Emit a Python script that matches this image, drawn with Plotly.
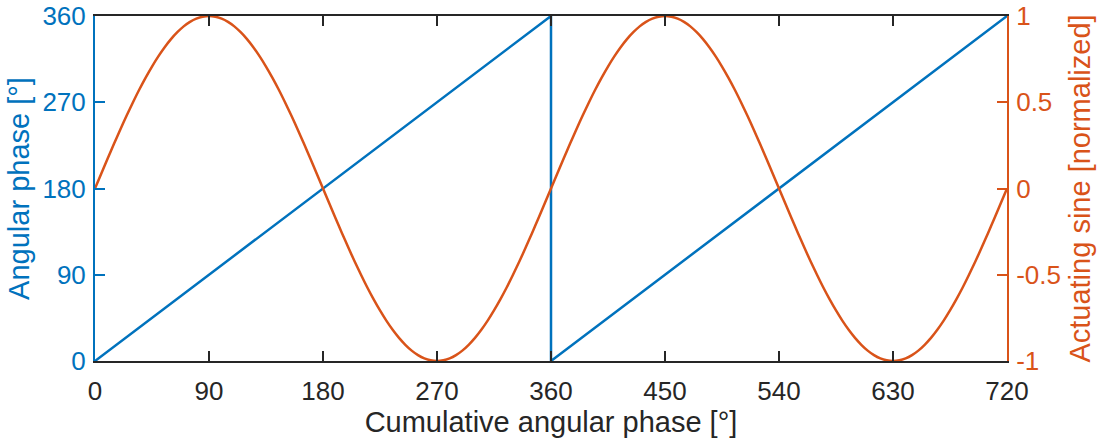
import plotly.graph_objects as go

# Sawtooth (wrapped angular phase)
phase_x = [0, 360, 360, 720]
phase_y = [0, 360, 0, 360]

sine_x = list(range(0, 721, 5))
sine_y = [
    0, 0.087, 0.174, 0.259, 0.342, 0.423, 0.5, 0.574, 0.643, 0.707, 0.766, 0.819,
    0.866, 0.906, 0.94, 0.966, 0.985, 0.996, 1.0,
    0.996, 0.985, 0.966, 0.94, 0.906, 0.866, 0.819, 0.766, 0.707, 0.643, 0.574,
    0.5, 0.423, 0.342, 0.259, 0.174, 0.087, 0,
    -0.087, -0.174, -0.259, -0.342, -0.423, -0.5, -0.574, -0.643, -0.707, -0.766,
    -0.819, -0.866, -0.906, -0.94, -0.966, -0.985, -0.996, -1.0,
    -0.996, -0.985, -0.966, -0.94, -0.906, -0.866, -0.819, -0.766, -0.707, -0.643,
    -0.574, -0.5, -0.423, -0.342, -0.259, -0.174, -0.087, 0,
    0.087, 0.174, 0.259, 0.342, 0.423, 0.5, 0.574, 0.643, 0.707, 0.766, 0.819,
    0.866, 0.906, 0.94, 0.966, 0.985, 0.996, 1.0,
    0.996, 0.985, 0.966, 0.94, 0.906, 0.866, 0.819, 0.766, 0.707, 0.643, 0.574,
    0.5, 0.423, 0.342, 0.259, 0.174, 0.087, 0,
    -0.087, -0.174, -0.259, -0.342, -0.423, -0.5, -0.574, -0.643, -0.707, -0.766,
    -0.819, -0.866, -0.906, -0.94, -0.966, -0.985, -0.996, -1.0,
    -0.996, -0.985, -0.966, -0.94, -0.906, -0.866, -0.819, -0.766, -0.707, -0.643,
    -0.574, -0.5, -0.423, -0.342, -0.259, -0.174, -0.087, 0,
]

x_ticks = [0, 90, 180, 270, 360, 450, 540, 630, 720]
y_ticks = [0, 90, 180, 270, 360]
y2_ticks = [-1, -0.5, 0, 0.5, 1]
y2_labels = ["-1", "-0.5", "0", "0.5", "1"]

BLUE = "#0072BD"
ORANGE = "#D95319"
DARK = "#262626"
FONT = "Liberation Sans, Arial, sans-serif"
TICK_SIZE = 26
TITLE_SIZE = 29
W, H = 1107, 441
M = dict(l=95, r=100, t=16, b=80)
TICKLEN = 10
plot_h = H - M["t"] - M["b"]

fig = go.Figure()
fig.add_trace(go.Scatter(x=phase_x, y=phase_y, mode="lines",
                         line=dict(color=BLUE, width=2.5), showlegend=False))
fig.add_trace(go.Scatter(x=sine_x, y=sine_y, mode="lines", yaxis="y2",
                         line=dict(color=ORANGE, width=2.5, shape="spline",
                                   smoothing=0.8),
                         showlegend=False))

# mirrored ticks along the top edge (inward)
for xv in x_ticks[1:-1]:
    fig.add_shape(type="line", xref="x", yref="y domain", x0=xv, x1=xv,
                  y0=1, y1=1 - TICKLEN / plot_h, layer="above",
                  line=dict(color=DARK, width=2))

fig.update_layout(
    width=W, height=H,
    margin=dict(**M, autoexpand=False),
    paper_bgcolor="white", plot_bgcolor="white",
    font=dict(family=FONT, size=TICK_SIZE, color=DARK),
    xaxis=dict(range=[0, 720], tickvals=x_ticks, ticks="inside", ticklen=TICKLEN,
               tickwidth=2, tickcolor=DARK, showline=True, linecolor=DARK,
               linewidth=2, mirror=True, showgrid=False, zeroline=False,
               automargin=False, ticklabelstandoff=6,
               tickfont=dict(size=TICK_SIZE, color=DARK),
               title=dict(text="Cumulative angular phase [°]",
                          font=dict(size=TITLE_SIZE, color=DARK), standoff=4)),
    yaxis=dict(range=[0, 360], tickvals=y_ticks, ticks="inside", ticklen=TICKLEN,
               tickwidth=2, tickcolor=BLUE, showline=True, linecolor=BLUE,
               linewidth=2, showgrid=False, zeroline=False, automargin=False,
               ticklabelstandoff=2,
               tickfont=dict(size=TICK_SIZE, color=BLUE),
               title=dict(text="Angular phase [°]",
                          font=dict(size=TITLE_SIZE, color=BLUE), standoff=4)),
    yaxis2=dict(range=[-1, 1], tickvals=y2_ticks, ticktext=y2_labels,
                overlaying="y", side="right", anchor="x", ticks="inside",
                ticklen=TICKLEN, tickwidth=2, tickcolor=ORANGE, showline=True,
                linecolor=ORANGE, linewidth=2, showgrid=False, zeroline=False,
                automargin=False, ticklabelstandoff=2,
                tickfont=dict(size=TICK_SIZE, color=ORANGE),
                title=dict(text="Actuating sine [normalized]",
                           font=dict(size=TITLE_SIZE, color=ORANGE), standoff=10)),
)

fig.write_html("out.html")
